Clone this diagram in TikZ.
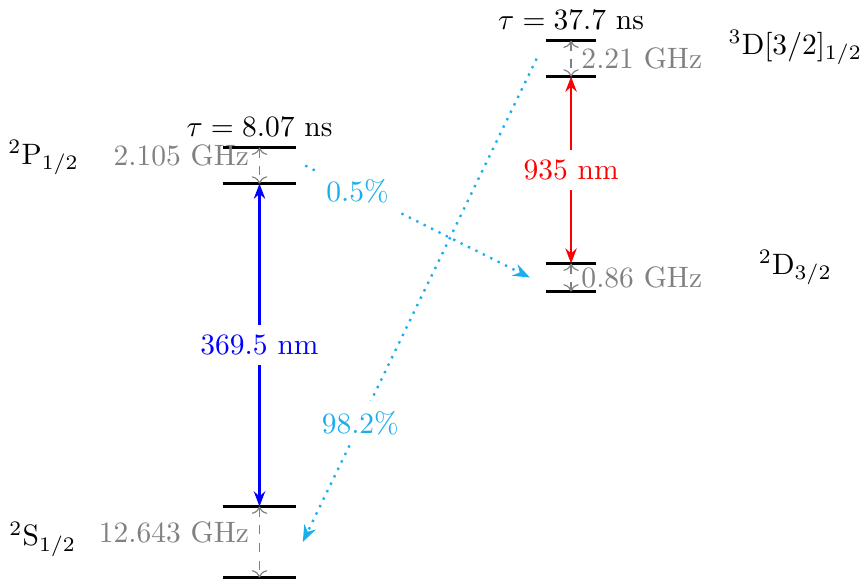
\documentclass[tikz,border=0pt]{standalone}
\usepackage{amsmath}
\usepackage{xcolor}
\usepackage{tikz}
\usetikzlibrary{arrows.meta,positioning,calc}
\definecolor{decaycyan}{RGB}{27,174,236}

\begin{document}
\begin{tikzpicture}[
  every node/.style={font=\normalsize},
  manifold/.style={inner sep=0pt, outer sep=0pt, minimum width=0.87cm},
  levelline/.style={thick, black},
  hfarrow/.style={gray, thin, dashed, <->},
  transarrow/.style={thick, {Stealth[length=1.8mm]}-{Stealth[length=1.8mm]}},
  decayarrow/.style={decaycyan, thick, dotted, -{Stealth[length=2mm]}},
]

\useasboundingbox (0,0) rectangle (10.30,6.96);

%% Hyperfine manifolds (only top and bottom edges are drawn)
\node[manifold, minimum height=0.845cm] (s) at (3.09,0.506) {};
\node[manifold, minimum height=0.429cm] (p) at (3.09,4.988) {};
\node[manifold, minimum width=0.6cm, minimum height=0.333cm] (d) at (6.80,3.655) {};
\node[manifold, minimum width=0.6cm, minimum height=0.429cm] (dthree) at (6.80,6.262) {};

\foreach \lv in {s,p,d,dthree}{
  \draw[levelline] (\lv.north west) -- (\lv.north east);
  \draw[levelline] (\lv.south west) -- (\lv.south east);
}

%% State labels
\node (slab) at (0.51,0.54) {$^2\mathrm{S}_{1/2}$};
\node (plab) at (0.52,5.08) {$^2\mathrm{P}_{1/2}$};
\node (dlab) at (9.47,3.77) {$^2\mathrm{D}_{3/2}$};
\node (dthreelab) at (9.47,6.39) {$^3\mathrm{D}[3/2]_{1/2}$};

%% Hyperfine splittings
\draw[hfarrow] (s.north) -- node[anchor=base east] {12.643 GHz} (s.south);
\draw[hfarrow] (p.north) -- node[anchor=base east] {2.105 GHz} (p.south);
\draw[hfarrow] (d.north) -- node[right] {0.86 GHz} (d.south);
\draw[hfarrow] (dthree.north) -- node[right] {2.21 GHz} (dthree.south);

%% Lifetimes
\node[above] (ptau) at (p.north) {$\tau = 8.07$ ns};
\node[above] (dthreetau) at (dthree.north) {$\tau = 37.7$ ns};

%% Laser transitions
\draw[transarrow, blue] (p.south) -- node[fill=white] {369.5 nm} (s.north);
\draw[transarrow, red] (dthree.south) -- node[fill=white] {935 nm} (d.north);

%% Decay branches
\draw[decayarrow] ([xshift=0.11cm]p.east) --
  node[pos=0.233, fill=white] {0.5\%} ([xshift=-0.19cm]d.west);
\draw[decayarrow] ([xshift=-0.11cm]dthree.west) --
  node[pos=0.754, fill=white] {98.2\%} ([xshift=0.08cm]s.east);

\end{tikzpicture}
\end{document}
